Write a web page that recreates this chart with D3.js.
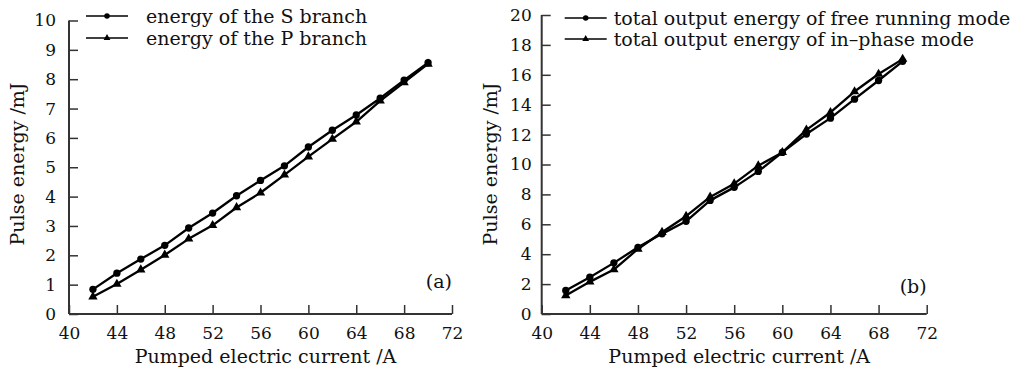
<!DOCTYPE html>
<html>
<head>
<meta charset="utf-8">
<script src="https://cdn.jsdelivr.net/npm/d3@7"></script>
<style>
  body { margin: 0; background: #fff; }
  svg text { font-family: "DejaVu Serif", "Liberation Serif", serif; fill: #111; }
</style>
</head>
<body>
<div id="chart"></div>
<script>
// pumped current (A)
const current = [42, 44, 46, 48, 50, 52, 54, 56, 58, 60, 62, 64, 66, 68, 70];

// panel (a)
const sBranch = [0.84, 1.39, 1.87, 2.34, 2.93, 3.44, 4.03, 4.55, 5.05, 5.69, 6.26, 6.78, 7.35, 7.97, 8.56];
const pBranch = [0.59, 1.02, 1.51, 2.01, 2.56, 3.02, 3.63, 4.13, 4.74, 5.36, 5.96, 6.55, 7.26, 7.89, 8.52];

// panel (b)
const freeRunning = [1.57, 2.46, 3.42, 4.46, 5.36, 6.2, 7.6, 8.47, 9.54, 10.81, 12.04, 13.1, 14.37, 15.62, 16.9];
const inPhase = [1.24, 2.15, 2.97, 4.35, 5.47, 6.54, 7.83, 8.72, 9.92, 10.81, 12.32, 13.48, 14.88, 16.05, 17.05];

const xTicks = [40, 44, 48, 52, 56, 60, 64, 68, 72];
const yTicksA = [0, 1, 2, 3, 4, 5, 6, 7, 8, 9, 10];
const yTicksB = [0, 2, 4, 6, 8, 10, 12, 14, 16, 18, 20];

const legendA = ["energy of the S branch", "energy of the P branch"];
const legendB = ["total output energy of free running mode", "total output energy of in\u2013phase mode"];

const svg = d3.select("#chart")
  .append("svg")
  .attr("width", 1026)
  .attr("height", 369);

svg.append("rect").attr("width", 1026).attr("height", 369).attr("fill", "#fff");

function drawPanel(opts) {
  const g = svg.append("g").attr("transform", `translate(${opts.left},0)`);
  const w = opts.width;
  const top = opts.top, bottom = 314;

  const x = d3.scaleLinear().domain([40, 72]).range([0, w]);
  const y = d3.scaleLinear().domain([0, opts.yMax]).range([bottom, top]);

  // y axis, ticks inside
  const yAxis = g.append("g")
    .call(d3.axisLeft(y).tickValues(opts.yTicks).tickSize(-9).tickPadding(opts.yPad));
  // x axis, ticks pointing up
  const xAxis = g.append("g")
    .attr("transform", `translate(0,${bottom})`)
    .call(d3.axisBottom(x).tickValues(xTicks).tickSize(-9).tickPadding(13));

  [yAxis, xAxis].forEach((ax) => {
    ax.attr("font-family", null);
    ax.select(".domain").attr("stroke", "#333").attr("stroke-width", 2);
    ax.selectAll(".tick line").attr("stroke", "#333").attr("stroke-width", 1.5);
    ax.selectAll(".tick text")
      .attr("font-size", 17)
      .attr("fill", "#111");
  });
  // remove end-caps that d3 adds to the domain path
  yAxis.select(".domain").attr("d", `M0,${top}V${bottom}`);
  xAxis.select(".domain").attr("d", `M0,0H${w}`);

  const line = d3.line().x((d) => x(d[0])).y((d) => y(d[1]));

  opts.series.forEach((s) => {
    const pts = current.map((c, i) => [c, s.values[i]]);
    g.append("path")
      .datum(pts)
      .attr("d", line)
      .attr("fill", "none")
      .attr("stroke", "#000")
      .attr("stroke-width", 2.3)
      .attr("stroke-linejoin", "round");
    g.selectAll(null)
      .data(pts)
      .enter()
      .append("path")
      .attr("transform", (d) => `translate(${x(d[0])},${y(d[1])})`)
      .attr("d", d3.symbol().type(s.symbol).size(s.symbol === d3.symbolCircle ? 42 : 38))
      .attr("fill", "#000");
  });

  // legend
  opts.series.forEach((s, i) => {
    const ly = opts.legendY[i];
    g.append("line")
      .attr("x1", opts.legendX).attr("x2", opts.legendX + 42)
      .attr("y1", ly).attr("y2", ly)
      .attr("stroke", "#000").attr("stroke-width", 1.3);
    g.append("path")
      .attr("transform", `translate(${opts.legendX + 21},${ly})`)
      .attr("d", d3.symbol().type(s.symbol).size(s.symbol === d3.symbolCircle ? 24 : 20))
      .attr("fill", "#000");
    g.append("text")
      .attr("x", opts.legendX + opts.textGap)
      .attr("y", ly + 6.5)
      .attr("font-size", 19)
      .text(s.name);
  });

  g.append("text")
    .attr("x", w)
    .attr("y", opts.tagY)
    .attr("text-anchor", "end")
    .attr("font-size", 19)
    .text(opts.tag);

  g.append("text")
    .attr("x", w / 2 + 5)
    .attr("y", 363)
    .attr("text-anchor", "middle")
    .attr("font-size", 19)
    .text("Pumped electric current /A");

  g.append("text")
    .attr("transform", `translate(${opts.yLabelX},164) rotate(-90)`)
    .attr("text-anchor", "middle")
    .attr("font-size", 19)
    .text("Pulse energy /mJ");
}

drawPanel({
  left: 69, width: 383, top: 20.5, yMax: 10, yTicks: yTicksA, yPad: 13,
  series: [
    { name: legendA[0], values: sBranch, symbol: d3.symbolCircle },
    { name: legendA[1], values: pBranch, symbol: d3.symbolTriangle }
  ],
  legendX: 17, legendY: [16, 38], textGap: 60,
  tag: "(a)", tagY: 288, yLabelX: -45
});

drawPanel({
  left: 541.7, width: 385, top: 15, yMax: 20, yTicks: yTicksB, yPad: 10,
  series: [
    { name: legendB[0], values: freeRunning, symbol: d3.symbolCircle },
    { name: legendB[1], values: inPhase, symbol: d3.symbolTriangle }
  ],
  legendX: 23, legendY: [18, 39], textGap: 49,
  tag: "(b)", tagY: 293, yLabelX: -45
});
</script>
</body>
</html>
